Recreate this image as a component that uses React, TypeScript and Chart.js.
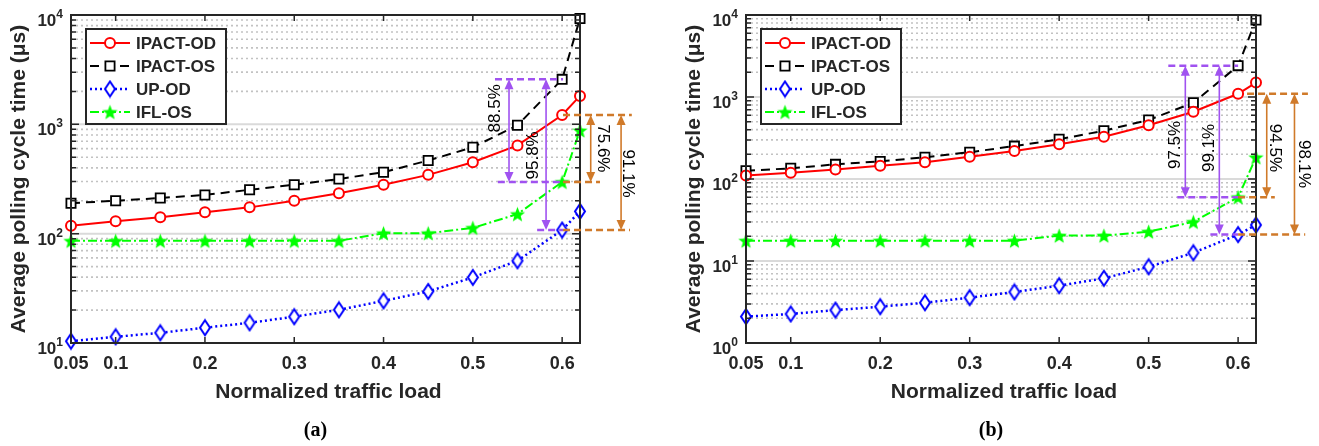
import React, { useEffect, useRef } from 'react';
import { Chart, registerables } from 'chart.js';

Chart.register(...registerables);

// ---------- data ----------
const loads = [0.05, 0.1, 0.15, 0.2, 0.25, 0.3, 0.35, 0.4, 0.45, 0.5, 0.55, 0.6, 0.62];
const xTickValues = [0.05, 0.1, 0.2, 0.3, 0.4, 0.5, 0.6];
const xTickLabels = ['0.05', '0.1', '0.2', '0.3', '0.4', '0.5', '0.6'];
const seriesNames = ['IPACT-OD', 'IPACT-OS', 'UP-OD', 'IFL-OS'];

// panel (a)
const ipactOdA = [118, 130, 141, 157, 174, 200, 234, 280, 345, 450, 641, 1217, 1820];
const ipactOsA = [190, 200, 212, 226, 252, 280, 316, 365, 467, 617, 980, 2580, 9300];
const upOdA = [10.4, 11.4, 12.4, 13.8, 15.3, 17.4, 20.1, 24.3, 29.6, 39.8, 56.5, 108, 160];
const iflOsA = [86, 86, 86, 86, 86, 86, 86, 101, 101, 113, 151, 297, 880];
const yTicksA = [1, 2, 3, 4];
const pctA = ['88.5%', '95.8%', '75.6%', '91.1%'];

// panel (b)
const ipactOdB = [110, 119, 131, 145, 160, 187, 219, 265, 328, 452, 662, 1096, 1500];
const ipactOsB = [126, 135, 151, 164, 184, 212, 252, 305, 388, 525, 850, 2410, 8700];
const upOdB = [2.1, 2.26, 2.52, 2.77, 3.1, 3.57, 4.19, 5.0, 6.15, 8.5, 12.6, 21, 27.5];
const iflOsB = [17.7, 17.7, 17.7, 17.7, 17.7, 17.7, 17.7, 20.4, 20.4, 22.8, 30, 60, 184];
const yTicksB = [0, 1, 2, 3, 4];
const pctB = ['97.5%', '99.1%', '94.5%', '98.1%'];

// ---------- styles ----------
const PURPLE = '#A052F0';
const ORANGE = '#D07A2A';
const AXIS = '#262626';
const FONT = '"Liberation Sans", Arial, sans-serif';

function makeStar(size: number, color: string) {
  const c = document.createElement('canvas');
  c.width = size;
  c.height = size;
  const g = c.getContext('2d')!;
  const cx = size / 2, cy = size / 2 + 0.8, R = size / 2 - 0.5, r = R * 0.42;
  g.beginPath();
  for (let i = 0; i < 10; i++) {
    const ang = -Math.PI / 2 + (i * Math.PI) / 5;
    const rad = i % 2 === 0 ? R : r;
    g.lineTo(cx + rad * Math.cos(ang), cy + rad * Math.sin(ang));
  }
  g.closePath();
  g.fillStyle = color;
  g.fill();
  return c;
}

function makeDiamond(w: number, h: number, color: string) {
  const c = document.createElement('canvas');
  c.width = w + 4;
  c.height = h + 4;
  const g = c.getContext('2d')!;
  const cx = c.width / 2, cy = c.height / 2;
  g.beginPath();
  g.moveTo(cx, cy - h / 2);
  g.lineTo(cx + w / 2, cy);
  g.lineTo(cx, cy + h / 2);
  g.lineTo(cx - w / 2, cy);
  g.closePath();
  g.fillStyle = '#ffffff';
  g.fill();
  g.lineWidth = 2;
  g.strokeStyle = color;
  g.stroke();
  return c;
}

interface HLine { y: number; x1: number; x2: number; color: string }
interface Arrow { x: number; y1: number; y2: number; color: string }
interface PctLabel { x: number; y: number; text: string; rot: number }

interface Panel {
  id: string;
  caption: string;
  od: number[];
  os: number[];
  up: number[];
  ifl: number[];
  yExp: number[];
  yWidth: number;
  padRight: number;
  canvasW: number;
  hlines: HLine[];
  arrows: Arrow[];
  labels: PctLabel[];
}

const panelA: Panel = {
  id: 'a',
  caption: '(a)',
  od: ipactOdA, os: ipactOsA, up: upOdA, ifl: iflOsA,
  yExp: yTicksA,
  yWidth: 71,
  padRight: 80,
  canvasW: 660,
  hlines: [
    { y: ipactOsA[11], x1: 0.5248, x2: 0.601, color: PURPLE },
    { y: iflOsA[11], x1: 0.528, x2: 0.601, color: PURPLE },
    { y: iflOsA[11], x1: 0.601, x2: 0.6424, color: ORANGE },
    { y: ipactOdA[11], x1: 0.601, x2: 0.678, color: ORANGE },
    { y: upOdA[11], x1: 0.572, x2: 0.601, color: PURPLE },
    { y: upOdA[11], x1: 0.601, x2: 0.676, color: ORANGE },
  ],
  arrows: [
    { x: 0.5405, y1: ipactOsA[11], y2: iflOsA[11], color: PURPLE },
    { x: 0.582, y1: ipactOsA[11], y2: upOdA[11], color: PURPLE },
    { x: 0.632, y1: ipactOdA[11], y2: iflOsA[11], color: ORANGE },
    { x: 0.666, y1: ipactOdA[11], y2: upOdA[11], color: ORANGE },
  ],
  labels: [
    { x: 0.525, y: 1400, text: pctA[0], rot: -90 },
    { x: 0.568, y: 520, text: pctA[1], rot: -90 },
    { x: 0.6457, y: 603, text: pctA[2], rot: 90 },
    { x: 0.6737, y: 355, text: pctA[3], rot: 90 },
  ],
};

const panelB: Panel = {
  id: 'b',
  caption: '(b)',
  od: ipactOdB, os: ipactOsB, up: upOdB, ifl: iflOsB,
  yExp: yTicksB,
  yWidth: 86,
  padRight: 63,
  canvasW: 659,
  hlines: [
    { y: ipactOsB[11], x1: 0.522, x2: 0.6, color: PURPLE },
    { y: iflOsB[11], x1: 0.532, x2: 0.6, color: PURPLE },
    { y: iflOsB[11], x1: 0.6, x2: 0.641, color: ORANGE },
    { y: ipactOdB[11], x1: 0.61, x2: 0.678, color: ORANGE },
    { y: upOdB[11], x1: 0.569, x2: 0.6, color: PURPLE },
    { y: upOdB[11], x1: 0.6, x2: 0.675, color: ORANGE },
  ],
  arrows: [
    { x: 0.541, y1: ipactOsB[11], y2: iflOsB[11], color: PURPLE },
    { x: 0.579, y1: ipactOsB[11], y2: upOdB[11], color: PURPLE },
    { x: 0.632, y1: ipactOdB[11], y2: iflOsB[11], color: ORANGE },
    { x: 0.663, y1: ipactOdB[11], y2: upOdB[11], color: ORANGE },
  ],
  labels: [
    { x: 0.53, y: 260, text: pctB[0], rot: -90 },
    { x: 0.568, y: 239, text: pctB[1], rot: -90 },
    { x: 0.641, y: 239, text: pctB[2], rot: 90 },
    { x: 0.673, y: 152, text: pctB[3], rot: 90 },
  ],
};

const isDecade = (v: number) => Math.abs(Math.log10(v) - Math.round(Math.log10(v))) < 1e-9;

function drawMarker(ctx: CanvasRenderingContext2D, ds: any, x: number, y: number) {
  const style = ds.pointStyle;
  ctx.save();
  ctx.setLineDash([]);
  if (style === 'circle') {
    ctx.beginPath();
    ctx.arc(x, y, ds.pointRadius, 0, Math.PI * 2);
    ctx.fillStyle = ds.pointBackgroundColor;
    ctx.fill();
    ctx.lineWidth = ds.pointBorderWidth;
    ctx.strokeStyle = ds.pointBorderColor;
    ctx.stroke();
  } else if (style === 'rect') {
    const s = ds.pointRadius * Math.SQRT1_2;
    ctx.beginPath();
    ctx.rect(x - s, y - s, 2 * s, 2 * s);
    ctx.fillStyle = ds.pointBackgroundColor;
    ctx.fill();
    ctx.lineWidth = ds.pointBorderWidth;
    ctx.strokeStyle = ds.pointBorderColor;
    ctx.stroke();
  } else if (style && style.width) {
    ctx.drawImage(style, x - style.width / 2, y - style.height / 2);
  }
  ctx.restore();
}

function makeDecor(p: Panel) {
  return {
    id: 'decor' + p.id,
    beforeDatasetsDraw(chart: any) {
      const { ctx, chartArea: a, scales } = chart;
      const y = scales.y;
      ctx.save();
      for (const t of y.ticks) {
        const py = y.getPixelForValue(t.value);
        ctx.beginPath();
        if (isDecade(t.value)) {
          ctx.strokeStyle = '#dadada';
          ctx.lineWidth = 2;
          ctx.setLineDash([]);
        } else {
          ctx.strokeStyle = '#c2c2c2';
          ctx.lineWidth = 1.6;
          ctx.setLineDash([2, 3]);
        }
        ctx.moveTo(a.left, py);
        ctx.lineTo(a.right, py);
        ctx.stroke();
      }
      ctx.restore();
    },
    afterDatasetsDraw(chart: any) {
      const { ctx, chartArea: a, scales } = chart;
      const x = scales.x;
      const y = scales.y;
      ctx.save();
      ctx.setLineDash([]);

      // tick marks
      ctx.strokeStyle = AXIS;
      ctx.lineWidth = 1.5;
      for (const t of y.ticks) {
        const py = y.getPixelForValue(t.value);
        const len = isDecade(t.value) ? 8 : 5;
        ctx.beginPath();
        ctx.moveTo(a.left, py); ctx.lineTo(a.left + len, py);
        ctx.moveTo(a.right, py); ctx.lineTo(a.right - len, py);
        ctx.stroke();
      }
      for (const t of x.ticks) {
        const px = x.getPixelForValue(t.value);
        ctx.beginPath();
        ctx.moveTo(px, a.top); ctx.lineTo(px, a.top + 6);
        ctx.moveTo(px, a.bottom); ctx.lineTo(px, a.bottom - 6);
        ctx.stroke();
      }

      // frame
      ctx.lineWidth = 2;
      ctx.strokeStyle = AXIS;
      ctx.strokeRect(a.left, a.top, a.right - a.left, a.bottom - a.top);

      // x tick labels
      ctx.fillStyle = AXIS;
      ctx.font = `bold 18px ${FONT}`;
      ctx.textAlign = 'center';
      ctx.textBaseline = 'alphabetic';
      x.ticks.forEach((t: any, i: number) => {
        ctx.fillText(xTickLabels[i], x.getPixelForValue(t.value), a.bottom + 26);
      });

      // y tick labels (10^n)
      for (const e of p.yExp) {
        const py = y.getPixelForValue(Math.pow(10, e));
        ctx.font = `bold 12px ${FONT}`;
        const ew = ctx.measureText(String(e)).width;
        const ex = a.left - 8 - ew;
        ctx.textAlign = 'left';
        ctx.fillText(String(e), ex, py + 3);
        ctx.font = `bold 17px ${FONT}`;
        ctx.textAlign = 'right';
        ctx.fillText('10', ex, py + 11);
      }

      // axis titles
      ctx.font = `bold 21px ${FONT}`;
      ctx.textAlign = 'center';
      ctx.fillText('Normalized traffic load', (a.left + a.right) / 2 + 3, a.bottom + 55);
      ctx.save();
      ctx.translate(a.left - 46, (a.top + a.bottom) / 2);
      ctx.rotate(-Math.PI / 2);
      ctx.fillText('Average polling cycle time (\u03bcs)', 0, 0);
      ctx.restore();

      // caption
      ctx.font = `bold 20px "Liberation Serif", "Times New Roman", serif`;
      ctx.fillStyle = '#000';
      ctx.textBaseline = 'middle';
      ctx.fillText(p.caption, (a.left + a.right) / 2 - 10, 431);

      // legend
      const lx = a.left + 15, ly = a.top + 14, lw = 140, lh = 95;
      ctx.fillStyle = '#ffffff';
      ctx.fillRect(lx, ly, lw, lh);
      ctx.lineWidth = 2;
      ctx.strokeStyle = AXIS;
      ctx.strokeRect(lx, ly, lw, lh);
      chart.data.datasets.forEach((ds: any, i: number) => {
        const ry = ly + 14 + i * 23;
        ctx.save();
        ctx.strokeStyle = ds.borderColor;
        ctx.lineWidth = ds.borderWidth;
        ctx.setLineDash(ds.borderDash || []);
        ctx.beginPath();
        ctx.moveTo(lx + 4, ry);
        ctx.lineTo(lx + 44, ry);
        ctx.stroke();
        ctx.restore();
        drawMarker(ctx, ds, lx + 24, ry);
        ctx.fillStyle = AXIS;
        ctx.font = `bold 17px ${FONT}`;
        ctx.textAlign = 'left';
        ctx.textBaseline = 'middle';
        ctx.fillText(seriesNames[i], lx + 50, ry + 1);
      });

      // annotations: dashed reference lines
      for (const h of p.hlines) {
        const py = y.getPixelForValue(h.y);
        ctx.strokeStyle = h.color;
        ctx.lineWidth = 2.5;
        ctx.setLineDash([7, 4]);
        ctx.beginPath();
        ctx.moveTo(x.getPixelForValue(h.x1), py);
        ctx.lineTo(x.getPixelForValue(h.x2), py);
        ctx.stroke();
      }
      ctx.setLineDash([]);
      // arrows
      for (const ar of p.arrows) {
        const px = x.getPixelForValue(ar.x);
        const y1 = y.getPixelForValue(ar.y1);
        const y2 = y.getPixelForValue(ar.y2);
        const head = 10, hw = 4.5;
        ctx.strokeStyle = ar.color;
        ctx.fillStyle = ar.color;
        ctx.lineWidth = 1.6;
        ctx.beginPath();
        ctx.moveTo(px, y1 + head - 1);
        ctx.lineTo(px, y2 - head + 1);
        ctx.stroke();
        ctx.beginPath();
        ctx.moveTo(px, y1);
        ctx.lineTo(px - hw, y1 + head);
        ctx.lineTo(px + hw, y1 + head);
        ctx.closePath();
        ctx.fill();
        ctx.beginPath();
        ctx.moveTo(px, y2);
        ctx.lineTo(px - hw, y2 - head);
        ctx.lineTo(px + hw, y2 - head);
        ctx.closePath();
        ctx.fill();
      }
      // percentage labels
      ctx.fillStyle = '#000';
      ctx.font = `17px ${FONT}`;
      ctx.textAlign = 'center';
      ctx.textBaseline = 'middle';
      for (const l of p.labels) {
        ctx.save();
        ctx.translate(x.getPixelForValue(l.x), y.getPixelForValue(l.y));
        ctx.rotate((l.rot * Math.PI) / 180);
        ctx.fillText(l.text, 0, 0);
        ctx.restore();
      }
      ctx.restore();
    },
  };
}

function buildConfig(p: Panel): any {
  const star = makeStar(17, '#00FF00');
  const diamond = makeDiamond(10, 15, '#0000FF');
  const pts = (vals: number[]) => loads.map((x, i) => ({ x, y: vals[i] }));
  const minExp = p.yExp[0];
  const maxExp = p.yExp[p.yExp.length - 1];
  return {
    type: 'line',
    data: {
      datasets: [
        {
          label: seriesNames[0], data: pts(p.od),
          borderColor: '#FF0000', borderWidth: 2, borderDash: [],
          pointStyle: 'circle', pointRadius: 5, pointBorderWidth: 2,
          pointBackgroundColor: '#ffffff', pointBorderColor: '#FF0000',
          clip: false,
        },
        {
          label: seriesNames[1], data: pts(p.os),
          borderColor: '#000000', borderWidth: 2, borderDash: [9, 6],
          pointStyle: 'rect', pointRadius: 6.5, pointBorderWidth: 1.8,
          pointBackgroundColor: '#ffffff', pointBorderColor: '#000000',
          clip: false,
        },
        {
          label: seriesNames[2], data: pts(p.up),
          borderColor: '#0000FF', borderWidth: 2.5, borderDash: [2, 3],
          pointStyle: diamond, pointRadius: 8,
          clip: false,
        },
        {
          label: seriesNames[3], data: pts(p.ifl),
          borderColor: '#00FF00', borderWidth: 2, borderDash: [9, 3, 2, 3],
          pointStyle: star, pointRadius: 8,
          clip: false,
        },
      ],
    },
    options: {
      animation: false,
      responsive: false,
      maintainAspectRatio: false,
      layout: { padding: { left: 0, right: p.padRight, top: 15, bottom: 0 } },
      plugins: { legend: { display: false }, tooltip: { enabled: false }, title: { display: false } },
      elements: { line: { tension: 0 } },
      scales: {
        x: {
          type: 'linear',
          min: 0.05,
          max: 0.62,
          afterBuildTicks: (s: any) => { s.ticks = xTickValues.map((v) => ({ value: v })); },
          afterFit: (s: any) => { s.height = 103; },
          ticks: { display: false },
          grid: { display: false },
          border: { display: false },
        },
        y: {
          type: 'logarithmic',
          min: Math.pow(10, minExp),
          max: Math.pow(10, maxExp),
          afterBuildTicks: (s: any) => {
            const t: any[] = [];
            for (let e = minExp; e <= maxExp; e++) {
              for (let m = 1; m <= 9; m++) {
                const v = m * Math.pow(10, e);
                if (v <= Math.pow(10, maxExp) * 1.0001) t.push({ value: v, major: m === 1 });
              }
            }
            s.ticks = t;
          },
          afterFit: (s: any) => { s.width = p.yWidth; },
          ticks: { display: false },
          grid: { display: false },
          border: { display: false },
        },
      },
    },
    plugins: [makeDecor(p)],
  };
}

function PanelChart({ panel, left }: { panel: Panel; left: number }) {
  const ref = useRef<HTMLCanvasElement>(null);
  useEffect(() => {
    if (!ref.current) return;
    const chart = new Chart(ref.current, buildConfig(panel));
    return () => chart.destroy();
  }, [panel]);
  return (
    <canvas
      ref={ref}
      width={panel.canvasW}
      height={446}
      style={{ position: 'absolute', left, top: 0, width: panel.canvasW, height: 446 }}
    />
  );
}

export default function App() {
  return (
    <div style={{ position: 'fixed', left: 0, top: 0, width: 1319, height: 446, background: '#ffffff', overflow: 'hidden' }}>
      <PanelChart panel={panelA} left={0} />
      <PanelChart panel={panelB} left={660} />
    </div>
  );
}
